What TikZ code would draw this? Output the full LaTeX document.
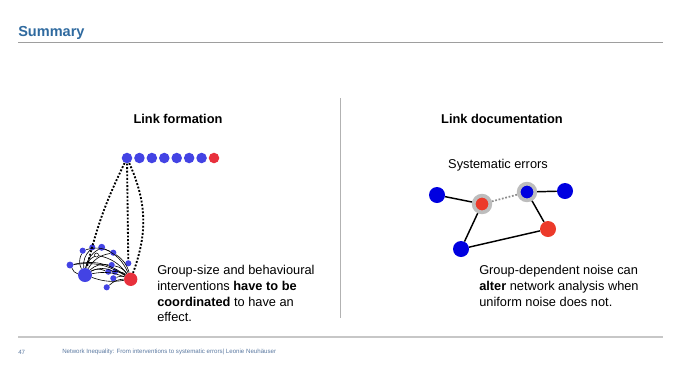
\documentclass[tikz,border=0pt]{standalone}
\usepackage{fontspec}
\setmainfont{Liberation Sans}
\setsansfont{Liberation Sans}
\usepackage{xcolor}
\definecolor{titleblue}{HTML}{2F6A9F}
\definecolor{footblue}{HTML}{5A78A0}
\definecolor{dotblue}{HTML}{4343E4}
\definecolor{dotred}{HTML}{E8303C}
\definecolor{netblue}{HTML}{0000E0}
\definecolor{netred}{HTML}{EC3A2A}
\definecolor{ringgray}{HTML}{BDBDBD}

\begin{document}
\begin{tikzpicture}[x=0.75pt,y=-0.75pt,
    rule/.style={draw=#1,line width=1.1pt},
    head/.style={inner sep=0pt,font=\fontsize{9.6}{11.6}\selectfont\bfseries},
    para/.style={inner sep=0pt,anchor=north west,align=left,font=\fontsize{9.6}{11.9}\selectfont},
    foot/.style={inner sep=0pt,anchor=west,text=footblue,font=\fontsize{4.6}{5.5}\selectfont},
    bdot/.style={circle,inner sep=0pt,fill=dotblue,minimum size=#1},
    rdot/.style={circle,inner sep=0pt,fill=dotred,minimum size=#1},
    bnode/.style={circle,inner sep=0pt,fill=netblue,minimum size=12pt},
    rnode/.style={circle,inner sep=0pt,fill=netred,minimum size=12pt},
    ring/.style={circle,inner sep=0pt,fill=#1,draw=ringgray,line width=2.8pt,minimum size=12.5pt},
    link/.style={black,line width=1.1pt},
    tie/.style={black,line width=0.45pt},
    dots/.style={black,line width=1.4pt,dash pattern=on 1.4pt off 1.3pt}]
        \useasboundingbox (0,0) rectangle (680,380);
        % header and frame
        \node[inner sep=0pt,anchor=base west,text=titleblue,font=\fontsize{10.9}{12}\selectfont\bfseries] (title) at (18,36.5) {Summary};
        \draw[rule=black!38] (18,42.5) -- (663,42.5);
        \draw[rule=black!30] (340.5,98) -- (340.5,318);
        \draw[rule=black!22] (18,337) -- (663,337);
        \node[foot] (page) at (18,352) {47};
        \node[foot] (credit) at (62,352) {Network Inequality: From interventions to systematic errors| Leonie Neuhäuser};
        % headings
        \node[head] (lform) at (178,119) {Link formation};
        \node[head] (ldoc) at (502,119) {Link documentation};
        % row of agents
        \foreach \i in {0,...,6}
            \node[bdot=7.9pt] (d\i) at (127+12.43*\i,158) {};
        \node[rdot=7.9pt] (d7) at (214,158) {};
        % small network
        \node[bdot=4.6pt] (c1) at (82.7,250.7) {};
        \node[bdot=4.6pt] (c2) at (92.3,247.3) {};
        \node[bdot=5.2pt] (c3) at (101.7,247.3) {};
        \node[bdot=4.6pt] (c4) at (113.3,252.7) {};
        \node[bdot=5.2pt] (c5) at (70,265) {};
        \node[bdot=10.5pt] (c6) at (85,275) {};
        \node[bdot=4.6pt] (c7) at (128.3,263.3) {};
        \node[bdot=4.6pt] (c8) at (111.7,265) {};
        \node[bdot=4.6pt] (c9) at (108.3,271.7) {};
        \node[bdot=4.6pt] (c10) at (115,271.7) {};
        \node[bdot=4.6pt] (c11) at (113.3,278.3) {};
        \node[bdot=4.6pt] (c12) at (106.7,287.3) {};
        \node[rdot=10pt] (c13) at (130.7,279.3) {};
        \node[circle,inner sep=0pt,fill=white,draw=black,line width=0.4pt,minimum size=3pt] (c0) at (96.5,255) {};
        \foreach \j in {1,2,3,4,5,8,9,10,0}
            \draw[tie] (c6) to[bend left=25] (c\j);
        \foreach \j in {3,4,5,8,9,10,11,12,0}
            \draw[tie] (c13) to[bend right=20] (c\j);
        \draw[tie] (c6) to[bend right=14] (c13);
        \draw[tie] (c6) to[bend left=16] (c13);
        \draw[tie] (c5) to[bend left=24] (c13);
        \draw[tie] (c1) to[bend left=20] (c4);
        % dotted ties to the row
        \draw[dots] (d0) to[bend right=6] (c6);
        \draw[dots] (d0) -- (c7);
        \draw[dots] (d0) to[bend left=22] (c13);
        % observed network
        \node[font=\fontsize{9.6}{11.6}\selectfont,inner sep=0pt] (syst) at (498,165) {Systematic errors};
        \node[bnode] (y1) at (437,195) {};
        \node[ring=netred] (y2) at (482,204) {};
        \node[ring=netblue] (y3) at (527,192) {};
        \node[bnode] (y4) at (565,191) {};
        \node[rnode] (y5) at (548,229) {};
        \node[bnode] (y6) at (461,249) {};
        \draw[link] (y1) -- (y2) -- (y6) -- (y5) -- (y3) -- (y4);
        \draw[black!45,line width=1.3pt,dash pattern=on 1.3pt off 1.3pt] (y2) -- (y3);
        % conclusions
        \node[para] (txtl) at (157,264.8) {Group-size and behavioural\\interventions \textbf{have to be}\\\textbf{coordinated} to have an\\effect.};
        \node[para] (txtr) at (479,264.8) {Group-dependent noise can\\\textbf{alter} network analysis when\\uniform noise does not.};
\end{tikzpicture}
\end{document}
